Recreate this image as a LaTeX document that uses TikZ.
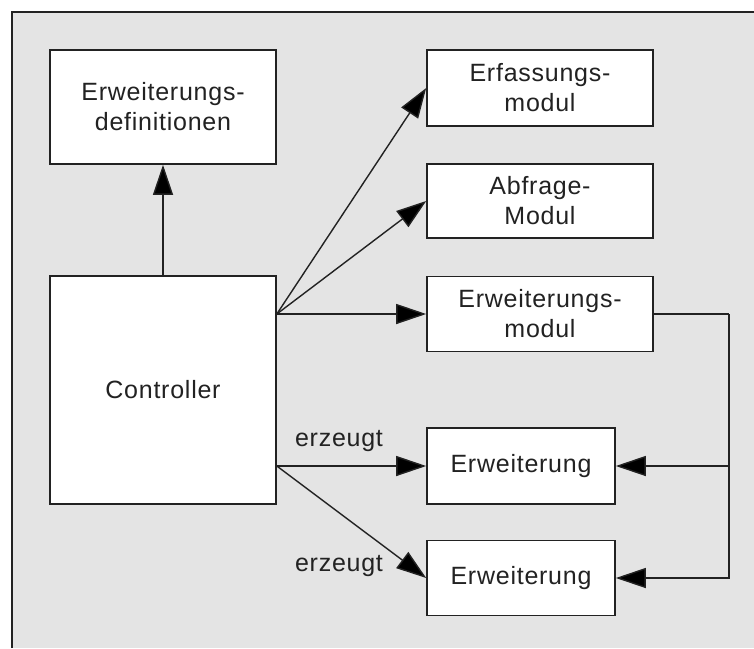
\documentclass[tikz,border=0pt]{standalone}
\usepackage{fontspec}
\setmainfont{Liberation Sans}[LetterSpace=3]
\usetikzlibrary{arrows.meta,calc}
\definecolor{panel}{HTML}{E4E4E4}
\definecolor{ink}{HTML}{222222}
\begin{document}
\begin{tikzpicture}[x=1pt,y=-1pt,
  box/.style={draw=ink,fill=white,line width=1.6pt,inner sep=0pt,
    align=center,text=ink,font=\fontsize{25}{30}\selectfont},
  conn/.style={draw=ink,line width=1.4pt},
  arr/.style={conn,-{Triangle[length=30pt,width=20pt,fill=black]}},
  lbl/.style={text=ink,font=\fontsize{25}{30}\selectfont,inner sep=0pt}]
  % canvas and panel
  \useasboundingbox (0,0) rectangle (754,648);
  \fill[white] (0,0) rectangle (754,648);
  \fill[panel] (12,12) rectangle (754,648);
  \draw[ink,line width=2pt] (12,648) -- (12,12) -- (754,12);

  % boxes
  \node[box,minimum width=226pt,minimum height=114pt] (def) at (163,107)
    {Erweiterungs-\\definitionen};
  \node[box,minimum width=226pt,minimum height=228pt] (ctrl) at (163,390)
    {Controller};
  \node[box,minimum width=226pt,minimum height=76pt] (erf) at (540,88)
    {Erfassungs-\\modul};
  \node[box,minimum width=226pt,minimum height=74pt] (abf) at (540,201)
    {Abfrage-\\Modul};
  \node[box,minimum width=226pt,minimum height=75pt] (em) at (540,314)
    {Erweiterungs-\\modul};
  \node[box,minimum width=188pt,minimum height=76pt] (e1) at (521,466)
    {Erweiterung};
  \node[box,minimum width=188pt,minimum height=75pt] (e2) at (521,578)
    {Erweiterung};

  % controller links
  \draw[arr] (ctrl.north) -- (def.south);
  \draw[arr] (ctrl.east |- em) -- (erf.west);
  \draw[arr] (ctrl.east |- em) -- (abf.west);
  \draw[arr] (ctrl.east |- em) -- (em.west);
  \draw[arr] (ctrl.east |- e1) -- (e1.west);
  \draw[arr] (ctrl.east |- e1) -- (e2.west);

  % labels on the creation links
  \node[lbl] (l1) at (339,441) {erzeugt};
  \node[lbl] (l2) at (339,566) {erzeugt};

  % feedback from the extension module
  \coordinate (bus) at (729,314);
  \draw[conn] (em.east) -- (bus);
  \draw[arr] (bus) |- (e2.east);
  \draw[arr] (bus |- e1) -- (e1.east);
\end{tikzpicture}
\end{document}
